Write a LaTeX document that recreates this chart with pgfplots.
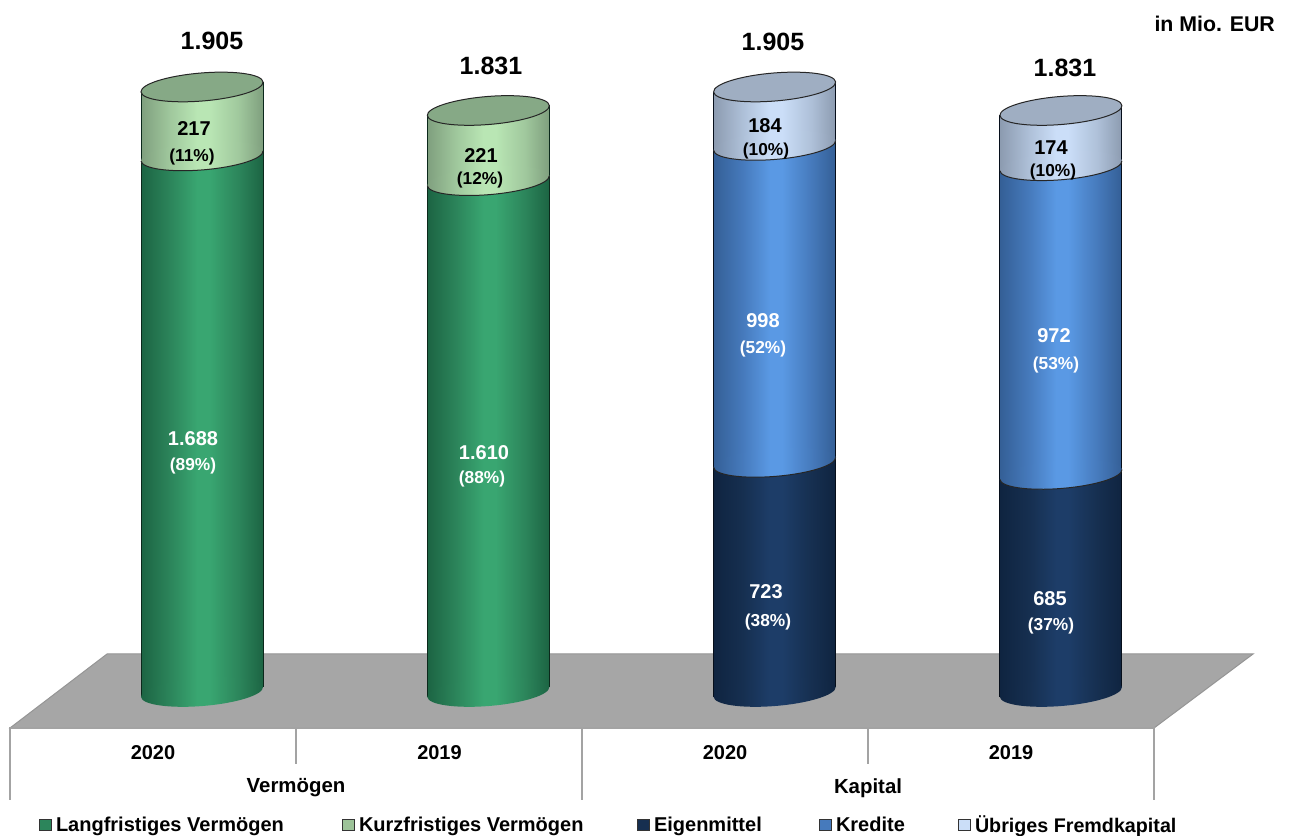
\documentclass[border=0pt]{standalone}
\usepackage{fontspec}
\setmainfont{Liberation Sans}
\usepackage{pgfplots}
\pgfplotsset{compat=1.18}
\definecolor{gD}{HTML}{1C6443}\definecolor{gM}{HTML}{2C855B}\definecolor{gL}{HTML}{39A671}
\definecolor{lD}{HTML}{7F9F7E}\definecolor{lM}{HTML}{A0C89D}\definecolor{lL}{HTML}{B9E6B4}
\definecolor{nD}{HTML}{0F2440}\definecolor{nM}{HTML}{162F50}\definecolor{nL}{HTML}{1D3D68}
\definecolor{bD}{HTML}{345F96}\definecolor{bM}{HTML}{467ABC}\definecolor{bL}{HTML}{5A99E4}
\definecolor{uD}{HTML}{8C9BB0}\definecolor{uM}{HTML}{AEC0D8}\definecolor{uL}{HTML}{CBDEF8}
\definecolor{lC}{HTML}{86A986}\definecolor{uC}{HTML}{9FAEC2}
\definecolor{floor}{HTML}{A6A6A6}\definecolor{axl}{HTML}{A3A3A3}
\newcommand\mkshade[4]{\pgfdeclarehorizontalshading{#1}{100bp}{color(0bp)=(#2); color(25bp)=(#2); color(37bp)=(#3); color(48bp)=(#4); color(53bp)=(#4); color(65bp)=(#3); color(75bp)=(#2); color(100bp)=(#2)}}
\mkshade{shG}{gD}{gM}{gL}
\mkshade{shL}{lD}{lM}{lL}
\mkshade{shN}{nD}{nM}{nL}
\mkshade{shB}{bD}{bM}{bL}
\mkshade{shU}{uD}{uM}{uL}
% ellipse ends of the cylinders, as plot marks
\newcommand\ellpath{\pgfpathellipse{\pgfpointorigin}{\pgfpoint{61pt}{5pt}}{\pgfpoint{-1.14pt}{13.96pt}}}
\newcommand\defmarks[1]{%
\pgfdeclareplotmark{fill-#1}{\pgfscope\ellpath\pgfshadepath{#1}{0}\pgfusepath{discard}\endpgfscope}%
\pgfdeclareplotmark{arc-#1}{\pgfscope\ellpath\pgfshadepath{#1}{0}\pgfusepath{discard}\endpgfscope
 \pgfscope\pgfsetlinewidth{1pt}\pgfsetstrokecolor{black!85}\pgftransformrotate{4.686}\pgfpathmoveto{\pgfpoint{-61.2pt}{0pt}}\pgfpatharc{180}{360}{61.2pt and 14pt}\pgfusepath{stroke}\endpgfscope}%
}
\defmarks{shG}\defmarks{shL}\defmarks{shN}\defmarks{shB}\defmarks{shU}
\pgfdeclareplotmark{cap-L}{\pgfscope\pgfsetlinewidth{1pt}\pgfsetstrokecolor{black!85}\pgfsetfillcolor{lC}\ellpath\pgfusepath{fill,stroke}\endpgfscope}
\pgfdeclareplotmark{cap-U}{\pgfscope\pgfsetlinewidth{1pt}\pgfsetstrokecolor{black!85}\pgfsetfillcolor{uC}\ellpath\pgfusepath{fill,stroke}\endpgfscope}
\newcommand\seg[4]{\addplot[forget plot,shade,shading=#4,draw=none,mark=none] table[row sep=\\,x expr={#1+\thisrow{d}*0.2131},y expr={\thisrow{v}+\thisrow{d}*15.74}] {d v\\ -1 #2\\ 1 #2\\ 1 #3\\ -1 #3\\};}
\newcommand\sideline[3]{\addplot[forget plot,draw=black!60!#3,line width=1pt,mark=none] table[row sep=\\,x expr={#1+\thisrow{d}*0.2131},y expr={\thisrow{v}+\thisrow{d}*15.74}] {d v\\ -1 0\\ -1 #2\\};
\addplot[forget plot,draw=black!60!#3,line width=1pt,mark=none] table[row sep=\\,x expr={#1+\thisrow{d}*0.2131},y expr={\thisrow{v}+\thisrow{d}*15.74}] {d v\\ 1 0\\ 1 #2\\};}
\newcommand\emk[3]{\addplot[forget plot,only marks,mark=#1] coordinates {(#2,#3)};}
\newcommand\greencol[3]{% x, long, total
 \emk{fill-shG}{#1}{0}\seg{#1}{0}{#2}{shG}\seg{#1}{#2}{#3}{shL}\emk{arc-shL}{#1}{#2}\sideline{#1}{#3}{gD}\emk{cap-L}{#1}{#3}}
\newcommand\bluecol[4]{% x, eigen, eigen+kredite, total
 \emk{fill-shN}{#1}{0}\seg{#1}{0}{#2}{shN}\seg{#1}{#2}{#3}{shB}\emk{arc-shB}{#1}{#2}\seg{#1}{#3}{#4}{shU}\emk{arc-shU}{#1}{#3}\sideline{#1}{#4}{nD}\emk{cap-U}{#1}{#4}}
\newcommand\lbl[4]{\node[font=\fontsize{#1}{#1}\selectfont\bfseries,text=#4,inner sep=0pt,anchor=center] at (#2) {#3};}
\begin{document}
\begin{tikzpicture}
\useasboundingbox (0,0) rectangle (1292pt,835pt);
\begin{scope}[x=1pt,y=-1pt,shift={(0pt,835pt)}]
\fill[white] (0,0) rectangle (1292,835);
\filldraw[fill=floor,draw=floor!90!black,line width=1pt] (10,728)--(107,654)--(1253,654)--(1154,728)--cycle;
\draw[axl,line width=2pt] (10,728)--(1154,728);
\draw[axl,line width=2pt] (10,727)--(10,800);
\draw[axl,line width=2pt] (296,728)--(296,764);
\draw[axl,line width=2pt] (582,728)--(582,800);
\draw[axl,line width=2pt] (868,728)--(868,764);
\draw[axl,line width=2pt] (1154,727)--(1154,800);
\end{scope}
\begin{axis}[
 at={(0pt,0pt)},anchor=south west,
 scale only axis,width=1292pt,height=835pt,
 xmin=-0.7056,xmax=3.8072,ymin=-450.3,ymax=2178.9,
 hide axis,clip=false,
 legend columns=5,
 legend cell align=left,
 legend style={at={(0.03019,0.0122)},anchor=west,draw=none,fill=none,inner sep=0pt,outer sep=0pt,
   nodes={inner sep=0pt,outer sep=0pt,font=\fontsize{20}{20}\selectfont\bfseries},
   /tikz/column sep=0pt,
   /tikz/every odd column/.style={column sep=4pt}},
 legend image code/.code={\draw[line width=1pt,#1] (0pt,-5.5pt) rectangle (12pt,5.5pt);},
]
\greencol{0}{1688}{1905}
\greencol{1}{1610}{1831}
\bluecol{2}{723}{1721}{1905}
\bluecol{3}{685}{1657}{1831}
\addlegendimage{fill=gM,draw=black!80}
\addlegendentry{\makebox[286pt][l]{Langfristiges Vermögen}}
\addlegendimage{fill=lL!85!black,draw=black!80}
\addlegendentry{\makebox[278pt][l]{Kurzfristiges Vermögen}}
\addlegendimage{fill=nM,draw=black!80}
\addlegendentry{\makebox[165pt][l]{Eigenmittel}}
\addlegendimage{fill=bM,draw=black!80}
\addlegendentry{\makebox[122pt][l]{Kredite}}
\addlegendimage{fill=uL,draw=black!80}
\addlegendentry{\makebox[205pt][l]{\fontsize{19.7}{20}\selectfont Übriges Fremdkapital}}
\end{axis}
\begin{scope}[x=1pt,y=-1pt,shift={(0pt,835pt)}]
\node[font=\fontsize{21.3}{21}\selectfont\bfseries,inner sep=0pt,anchor=east] at (1275,24) {in Mio. EUR};
\lbl{25}{212,41}{1.905}{black}\lbl{25}{491,66}{1.831}{black}\lbl{25}{773,42}{1.905}{black}\lbl{25}{1065,68}{1.831}{black}
\lbl{20}{194,129}{217}{black}\lbl{17.3}{192,157}{(11\%)}{black}
\lbl{20}{193,439}{1.688}{white}\lbl{17.3}{193,466}{(89\%)}{white}
\lbl{20}{481,156}{221}{black}\lbl{17.3}{480,180}{(12\%)}{black}
\lbl{20}{484,453}{1.610}{white}\lbl{17.3}{482,479}{(88\%)}{white}
\lbl{20}{765,126}{184}{black}\lbl{17.3}{766,151}{(10\%)}{black}
\lbl{20}{763,321}{998}{white}\lbl{17.3}{763,349}{(52\%)}{white}
\lbl{20}{766,592}{723}{white}\lbl{17.3}{768,622}{(38\%)}{white}
\lbl{20}{1051,148}{174}{black}\lbl{17.3}{1053,172}{(10\%)}{black}
\lbl{20}{1054,336}{972}{white}\lbl{17.3}{1056,365}{(53\%)}{white}
\lbl{20}{1050,599}{685}{white}\lbl{17.3}{1051,626}{(37\%)}{white}
\lbl{20}{153,753}{2020}{black}\lbl{20}{439.5,753}{2019}{black}\lbl{20}{725,753}{2020}{black}\lbl{20}{1011,753}{2019}{black}
\lbl{20.4}{296,788}{Vermögen}{black}\lbl{20.4}{868,788}{Kapital}{black}
\end{scope}
\end{tikzpicture}
\end{document}
